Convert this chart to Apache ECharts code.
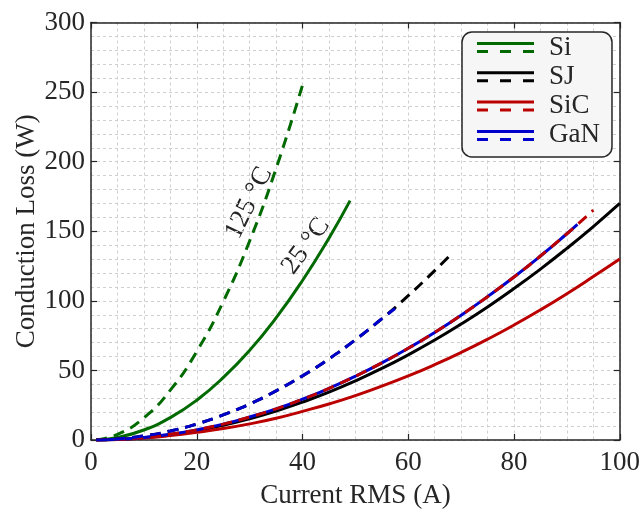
<!DOCTYPE html>
<html>
<head>
<meta charset="utf-8">
<script src="https://cdn.jsdelivr.net/npm/echarts@6/dist/echarts.min.js"></script>
<style>
  html, body { margin: 0; padding: 0; background: #fff; }
  #chart { width: 643px; height: 514px; }
</style>
</head>
<body>
<div id="chart"></div>
<script>
// Conduction loss vs RMS current for four device technologies.
// Solid lines: 25 °C, dashed lines: 125 °C.

const siCurrent25   = [1, 5, 10, 15, 20, 25, 30, 35, 40, 45, 49];
const siLoss25      = [0.1, 1.8, 7.2, 16.1, 28.6, 44.8, 64.4, 87.7, 114.6, 145, 172];
const siCurrent125  = [1, 5, 10, 15, 20, 25, 30, 35, 40];
const siLoss125     = [0.2, 4.0, 15.9, 35.8, 63.6, 99.4, 143, 195, 255];

const sjCurrent25   = [1, 5, 10, 15, 20, 25, 30, 35, 40, 45, 50, 55, 60, 65, 70, 75, 80, 85, 90, 95, 100];
const sjLoss25      = [0, 0.4, 1.7, 3.8, 6.8, 10.6, 15.3, 20.8, 27.2, 34.4, 42.5, 51.4, 61.2, 71.8, 83.3, 95.6, 108.8, 122.8, 137.7, 153.4, 170];
const sjCurrent125  = [1, 5, 10, 15, 20, 25, 30, 35, 40, 45, 50, 55, 60, 65, 68];
const sjLoss125     = [0, 0.7, 2.9, 6.5, 11.5, 18.0, 25.9, 35.3, 46.1, 58.3, 72.0, 87.1, 103.7, 121.7, 133];

const sicCurrent25  = [1, 5, 10, 15, 20, 25, 30, 35, 40, 45, 50, 55, 60, 65, 70, 75, 80, 85, 90, 95, 100];
const sicLoss25     = [0, 0.35, 1.4, 3.2, 5.5, 8.2, 11.6, 15.6, 20.6, 25.9, 31.9, 38.7, 46.0, 54.1, 62.9, 72.4, 82.6, 93.5, 105.1, 117.4, 130];
const sicCurrent125 = [1, 5, 10, 15, 20, 25, 30, 35, 40, 45, 50, 55, 60, 65, 70, 75, 80, 85, 90, 95];
const sicLoss125    = [0, 0.5, 1.8, 4.1, 7.3, 11.4, 16.5, 22.4, 29.3, 37.1, 45.8, 55.4, 65.9, 77.3, 89.7, 103, 117.1, 132.2, 148.2, 165.2];

const ganCurrent25  = [1, 5, 10, 15, 20, 25, 30, 35, 40, 45, 50, 55, 60, 65, 70, 75, 80, 85, 90, 92];
const ganLoss25     = [0, 0.5, 1.8, 4.1, 7.3, 11.4, 16.5, 22.4, 29.3, 37.1, 45.8, 55.4, 65.9, 77.3, 89.7, 103, 117.1, 132.2, 148.2, 154.9];
const ganCurrent125 = [1, 5, 10, 15, 20, 25, 30, 35, 40, 45, 50, 55, 57.5];
const ganLoss125    = [0, 0.7, 2.9, 6.5, 11.5, 18.0, 25.9, 35.3, 46.1, 58.3, 72.0, 87.1, 94.5];

const deviceNames = ['Si', 'SJ', 'SiC', 'GaN'];
const deviceColors = { Si: '#006a00', SJ: '#000000', SiC: '#bb0000', GaN: '#0000cc' };

const FONT = '"Liberation Serif", "Times New Roman", serif';
const TEXT_COLOR = '#262626';

function pairs(xs, ys) { return xs.map((x, i) => [x, ys[i]]); }

function curve(name, xs, ys, dashed) {
  return {
    type: 'line',
    name: name,
    data: pairs(xs, ys),
    smooth: true,
    symbol: 'none',
    color: deviceColors[name],
    lineStyle: {
      color: deviceColors[name],
      width: 3,
      type: dashed ? [11, 7] : 'solid'
    },
    z: dashed ? 3 : 2
  };
}

const series = [
  curve('Si', siCurrent25, siLoss25, false),
  curve('Si', siCurrent125, siLoss125, true),
  curve('SJ', sjCurrent25, sjLoss25, false),
  curve('SJ', sjCurrent125, sjLoss125, true),
  curve('SiC', sicCurrent25, sicLoss25, false),
  curve('GaN', ganCurrent25, ganLoss25, false),
  curve('SiC', sicCurrent125, sicLoss125, true),
  curve('GaN', ganCurrent125, ganLoss125, true)
];

const gridLine = { show: true, lineStyle: { color: '#cfcfcf', width: 1, type: [3, 3] } };
const axisLine = { show: true, onZero: false, lineStyle: { color: '#262626', width: 1.5 } };
const tick = { show: true, inside: true, length: 6, lineStyle: { color: '#262626', width: 1.2 } };

const chart = echarts.init(document.getElementById('chart'));
chart.setOption({
  animation: false,
  backgroundColor: '#ffffff',
  grid: { left: 91, right: 22, top: 22.5, bottom: 71, containLabel: false },
  xAxis: [
    {
      type: 'value', min: 0, max: 100, interval: 20, position: 'bottom',
      name: 'Current RMS (A)', nameLocation: 'middle', nameGap: 42, nameMoveOverlap: false,
      nameTextStyle: { fontFamily: FONT, fontSize: 27, color: TEXT_COLOR },
      axisLine: axisLine,
      axisTick: tick,
      axisLabel: { fontFamily: FONT, fontSize: 27, color: TEXT_COLOR, margin: 9 },
      splitLine: gridLine,
      minorTick: { show: false, splitNumber: 4 },
      minorSplitLine: gridLine
    },
    {
      type: 'value', min: 0, max: 100, interval: 20, position: 'top',
      axisLine: axisLine,
      axisTick: tick,
      axisLabel: { show: false },
      splitLine: { show: false }
    }
  ],
  yAxis: [
    {
      type: 'value', min: 0, max: 300, interval: 50, position: 'left',
      name: 'Conduction Loss (W)', nameLocation: 'middle', nameGap: 51, nameRotate: 90, nameMoveOverlap: false,
      nameTextStyle: { fontFamily: FONT, fontSize: 27, color: TEXT_COLOR },
      axisLine: axisLine,
      axisTick: tick,
      axisLabel: { fontFamily: FONT, fontSize: 27, color: TEXT_COLOR, margin: 6 },
      splitLine: gridLine,
      minorTick: { show: false, splitNumber: 5 },
      minorSplitLine: gridLine
    },
    {
      type: 'value', min: 0, max: 300, interval: 50, position: 'right',
      axisLine: axisLine,
      axisTick: tick,
      axisLabel: { show: false },
      splitLine: { show: false }
    }
  ],
  legend: {
    data: deviceNames,
    orient: 'vertical',
    left: 462,
    top: 32,
    icon: 'path://M0,0H57V3H0Z M0,8H11V11H0Z M23,8H34V11H23Z M46,8H57V11H46Z',
    itemWidth: 57,
    itemHeight: 11,
    itemGap: 2.3,
    padding: [2, 12, 8, 15],
    backgroundColor: '#f6f6f6',
    borderColor: '#262626',
    borderWidth: 1.5,
    borderRadius: 10,
    selectedMode: false,
    itemStyle: { borderWidth: 0 },
    textStyle: { fontFamily: FONT, fontSize: 27, color: TEXT_COLOR, padding: [0, 0, 0, 10] }
  },
  graphic: [
    {
      type: 'text', x: 249, y: 203, rotation: 64 * Math.PI / 180,
      style: { text: '125 °C', font: '27px ' + FONT, fill: TEXT_COLOR, align: 'center', verticalAlign: 'middle' }
    },
    {
      type: 'text', x: 306, y: 246, rotation: 54 * Math.PI / 180,
      style: { text: '25 °C', font: '27px ' + FONT, fill: TEXT_COLOR, align: 'center', verticalAlign: 'middle' }
    }
  ],
  series: series
});
</script>
</body>
</html>
